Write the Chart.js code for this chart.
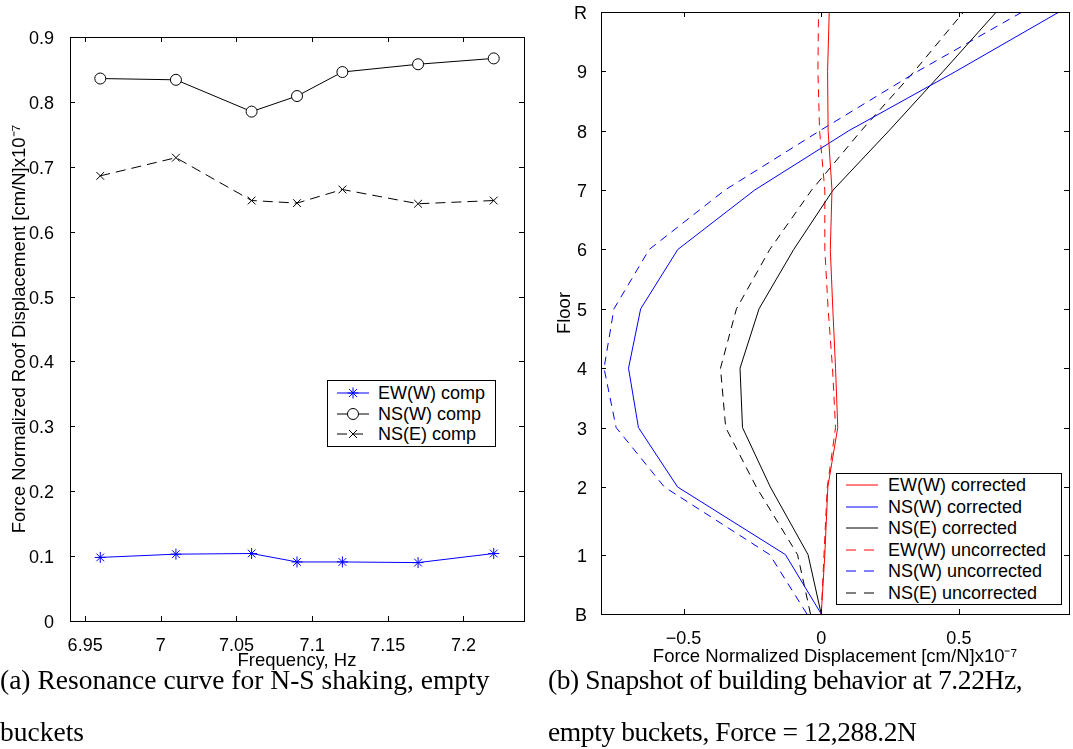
<!DOCTYPE html>
<html>
<head>
<meta charset="utf-8">
<script src="https://cdn.jsdelivr.net/npm/chart.js@4.4.0/dist/chart.umd.min.js"></script>
<style>
body { margin:0; background:#fff; width:1073px; height:749px; position:relative; overflow:hidden; font-family:"Liberation Sans", Arial, sans-serif; }
canvas { position:absolute; top:0; }
#left { left:0; }
#right { left:545px; }
.legend { position:absolute; background:#fff; border:1px solid #000; font-size:18px; color:#000; }
.legend .row { position:absolute; left:0; height:20px; display:flex; align-items:center; white-space:nowrap; }
.legend svg { display:block; }
.caption { position:absolute; font-family:"Liberation Serif","Times New Roman",serif; font-size:27.5px; line-height:52px; white-space:nowrap; color:#000; }
</style>
</head>
<body>
<canvas id="left" width="545" height="680"></canvas>
<canvas id="right" width="528" height="680"></canvas>
<div class="legend" id="legLeft" style="left:327px; top:380px; width:167px; height:65px;"></div>
<div class="legend" id="legRight" style="left:836px; top:473px; width:224px; height:130px;"></div>
<div class="caption" style="left:0px; top:654px;">(a) Resonance curve for N-S shaking, empty<br>buckets</div>
<div class="caption" style="left:548px; top:654px; letter-spacing:-0.4px;">(b) Snapshot of building behavior at 7.22Hz,<br>empty buckets, Force = 12,288.2N</div>
<script>
// (a) resonance curve, N-S shaking
const freqHz = [6.96, 7.01, 7.06, 7.09, 7.12, 7.17, 7.22];
const ewW = [0.098, 0.103, 0.104, 0.091, 0.091, 0.090, 0.104];
const nsW = [0.836, 0.834, 0.785, 0.809, 0.846, 0.858, 0.867];
const nsE = [0.686, 0.714, 0.648, 0.644, 0.665, 0.643, 0.648];
const freqTicks = [6.95, 7, 7.05, 7.1, 7.15, 7.2];
const roofTicks = [0, 0.1, 0.2, 0.3, 0.4, 0.5, 0.6, 0.7, 0.8, 0.9];

// (b) snapshot at 7.22 Hz, one value per floor (B .. R)
const floorLabels = ['B', '1', '2', '3', '4', '5', '6', '7', '8', '9', 'R'];
const floorHeights = [0, 1, 2.14, 3.14, 4.14, 5.14, 6.14, 7.14, 8.14, 9.14, 10.14];
const ewWCorr = [0, 0.013, 0.024, 0.060, 0.052, 0.042, 0.033, 0.039, 0.025, 0.023, 0.029];
const nsWCorr = [0, -0.130, -0.522, -0.664, -0.700, -0.656, -0.521, -0.242, 0.100, 0.489, 0.864];
const nsECorr = [0, -0.048, -0.185, -0.286, -0.295, -0.226, -0.100, 0.043, 0.246, 0.443, 0.636];
const ewWUnc = [0, 0.010, 0.022, 0.052, 0.041, 0.025, 0.013, 0.013, -0.006, -0.012, -0.010];
const nsWUnc = [-0.052, -0.187, -0.570, -0.745, -0.789, -0.753, -0.625, -0.350, -0.005, 0.350, 0.730];
const nsEUnc = [-0.039, -0.086, -0.236, -0.347, -0.366, -0.308, -0.187, -0.035, 0.145, 0.338, 0.517];
const dispTicks = [-0.5, 0, 0.5];

const BLUE = '#0000ff', RED = '#ff0000', BLACK = '#000000';
const DASH = [8, 6];
const FONT = 'Liberation Sans, Arial, sans-serif';

// matlab style box with inward ticks on all four sides
const boxTicks = {
  id: 'boxTicks',
  afterDraw(chart) {
    const {ctx, chartArea: a, scales} = chart;
    const len = 5;
    ctx.save();
    ctx.strokeStyle = '#000';
    ctx.lineWidth = 1;
    ctx.beginPath();
    scales.x.ticks.forEach(t => {
      const p = Math.round(scales.x.getPixelForValue(t.value)) + 0.5;
      ctx.moveTo(p, a.bottom); ctx.lineTo(p, a.bottom - len);
      ctx.moveTo(p, a.top); ctx.lineTo(p, a.top + len);
    });
    scales.y.ticks.forEach(t => {
      const p = Math.round(scales.y.getPixelForValue(t.value)) + 0.5;
      ctx.moveTo(a.left, p); ctx.lineTo(a.left + len, p);
      ctx.moveTo(a.right, p); ctx.lineTo(a.right - len, p);
    });
    ctx.stroke();
    ctx.strokeRect(Math.round(a.left) + 0.5, Math.round(a.top) + 0.5,
      Math.round(a.right - a.left), Math.round(a.bottom - a.top));
    ctx.restore();
  }
};

function fixedTicks(list) {
  return scale => { scale.ticks = list.map(v => ({value: v})); };
}

// fixed axis size, no automatic label padding
function fixSize(prop, size) {
  return s => {
    s[prop] = size;
    s.paddingTop = 0; s.paddingBottom = 0; s.paddingLeft = 0; s.paddingRight = 0;
  };
}

function pts(xs, ys) {
  return xs.map((x, i) => ({x: x, y: ys[i]}));
}

// ---------- left chart ----------
const leftSeries = [
  {label: 'EW(W) comp', data: pts(freqHz, ewW), color: BLUE, marker: 'star', dash: []},
  {label: 'NS(W) comp', data: pts(freqHz, nsW), color: BLACK, marker: 'circle', dash: []},
  {label: 'NS(E) comp', data: pts(freqHz, nsE), color: BLACK, marker: 'crossRot', dash: [10, 6]}
];

new Chart(document.getElementById('left'), {
  type: 'scatter',
  data: {
    datasets: leftSeries.map(s => ({
      label: s.label,
      data: s.data,
      showLine: true,
      borderColor: s.color,
      borderWidth: 1,
      borderDash: s.dash,
      pointStyle: s.marker,
      pointRadius: 5.5,
      pointBorderColor: s.color,
      pointBackgroundColor: s.marker === 'circle' ? '#fff' : s.color,
      pointBorderWidth: 1,
      tension: 0
    }))
  },
  options: {
    responsive: false,
    animation: false,
    layout: {autoPadding: false, padding: {top: 37, right: 21, left: 0, bottom: 0}},
    plugins: {legend: {display: false}, tooltip: {enabled: false}},
    scales: {
      x: {
        type: 'linear', min: 6.94, max: 7.24,
        afterBuildTicks: fixedTicks(freqTicks),
        afterFit: fixSize('height', 59),
        grid: {display: false}, border: {display: false},
        ticks: {color: '#000', font: {family: FONT, size: 18}, padding: 6,
          callback: v => String(+v.toFixed(2))},
        title: {display: true, text: 'Frequency, Hz', color: '#000',
          font: {family: FONT, size: 18.5}, padding: {top: 0, bottom: 8}}
      },
      y: {
        type: 'linear', min: 0, max: 0.9,
        afterBuildTicks: fixedTicks(roofTicks),
        afterFit: fixSize('width', 70),
        grid: {display: false}, border: {display: false},
        ticks: {color: '#000', font: {family: FONT, size: 18}, padding: 8, labelOffset: 2,
          callback: v => String(+v.toFixed(1))},
        title: {display: true, text: 'Force Normalized Roof Displacement [cm/N]x10\u207B\u2077', color: '#000',
          font: {family: FONT, size: 18.5}, padding: {top: 9, bottom: 0}}
      }
    }
  },
  plugins: [boxTicks]
});

// ---------- right chart ----------
const rightSeries = [
  {label: 'EW(W) corrected', values: ewWCorr, color: RED, dash: []},
  {label: 'NS(W) corrected', values: nsWCorr, color: BLUE, dash: []},
  {label: 'NS(E) corrected', values: nsECorr, color: BLACK, dash: []},
  {label: 'EW(W) uncorrected', values: ewWUnc, color: RED, dash: DASH},
  {label: 'NS(W) uncorrected', values: nsWUnc, color: BLUE, dash: DASH},
  {label: 'NS(E) uncorrected', values: nsEUnc, color: BLACK, dash: DASH}
];

new Chart(document.getElementById('right'), {
  type: 'scatter',
  data: {
    datasets: rightSeries.map(s => ({
      label: s.label,
      data: pts(s.values, floorHeights),
      showLine: true,
      borderColor: s.color,
      borderWidth: 1,
      borderDash: s.dash,
      pointRadius: 0,
      tension: 0
    }))
  },
  options: {
    responsive: false,
    animation: false,
    layout: {autoPadding: false, padding: {top: 12, right: 4, left: 0, bottom: 0}},
    plugins: {legend: {display: false}, tooltip: {enabled: false}},
    scales: {
      x: {
        type: 'linear', min: -0.8, max: 0.9,
        afterBuildTicks: fixedTicks(dispTicks),
        afterFit: fixSize('height', 66),
        grid: {display: false}, border: {display: false},
        ticks: {color: '#000', font: {family: FONT, size: 18}, padding: 6,
          callback: v => v < 0 ? '\u2212' + String(-v) : String(v)},
        title: {display: true, text: 'Force Normalized Displacement [cm/N]x10\u207B\u2077', color: '#000',
          font: {family: FONT, size: 18.5}, padding: {top: 0, bottom: 12}}
      },
      y: {
        type: 'linear', min: 0, max: 10.14,
        afterBuildTicks: fixedTicks(floorHeights),
        afterFit: fixSize('width', 56),
        grid: {display: false}, border: {display: false},
        ticks: {color: '#000', font: {family: FONT, size: 18}, padding: 6, labelOffset: 2,
          callback: v => floorLabels[floorHeights.indexOf(v)]},
        title: {display: true, text: 'Floor', color: '#000',
          font: {family: FONT, size: 18.5}, padding: {top: 9, bottom: 0}}
      }
    }
  },
  plugins: [boxTicks]
});

// ---------- legends ----------
function sample(color, dash, marker) {
  let s = '<svg width="32" height="20"><line x1="0" y1="10" x2="32" y2="10" stroke="' + color +
    '" stroke-width="1"' + (dash.length ? ' stroke-dasharray="' + dash.join(' ') + '"' : '') + '/>';
  if (marker === 'star') {
    s += '<path d="M16 4.5V15.5M10.5 10H21.5M12 6L20 14M20 6L12 14" stroke="' + color + '"/>';
  } else if (marker === 'circle') {
    s += '<circle cx="16" cy="10" r="5.5" fill="#fff" stroke="' + color + '"/>';
  } else if (marker === 'crossRot') {
    s += '<path d="M12 6L20 14M20 6L12 14" stroke="' + color + '"/>';
  }
  return s + '</svg>';
}

function buildLegend(id, items, firstTop, step, sampleLeft, textLeft) {
  const el = document.getElementById(id);
  items.forEach((it, i) => {
    const row = document.createElement('div');
    row.className = 'row';
    row.style.top = (firstTop + i * step - 10) + 'px';
    row.innerHTML = '<span style="position:absolute;left:' + sampleLeft + 'px;top:0">' +
      sample(it.color, it.dash, it.marker) + '</span>' +
      '<span style="position:absolute;left:' + textLeft + 'px;top:-1px;line-height:22px">' + it.label + '</span>';
    el.appendChild(row);
  });
}

buildLegend('legLeft', leftSeries.map(s => ({label: s.label, color: s.color, dash: s.dash, marker: s.marker})), 12, 20.5, 9, 50);
buildLegend('legRight', rightSeries.map(s => ({label: s.label, color: s.color, dash: s.dash.length ? [10, 8] : []})), 11, 21.5, 9, 51);
</script>
</body>
</html>
